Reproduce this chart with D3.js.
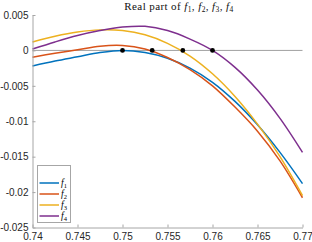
<!DOCTYPE html>
<html>
<head>
<meta charset="utf-8">
<script src="https://cdn.jsdelivr.net/npm/d3@7"></script>
<style>
  html, body { margin: 0; padding: 0; background: #fff; }
  svg { display: block; }
</style>
</head>
<body>
<svg id="chart" width="312" height="242"></svg>
<script>
// values
const xs = [0.74, 0.7425, 0.745, 0.7475, 0.75, 0.7525, 0.755, 0.7575, 0.76, 0.7625, 0.765, 0.7675, 0.77];
const f1 = [-0.0022, -0.0015, -0.0009, -0.0003, 0, -0.0003, -0.0011, -0.0025, -0.0045, -0.0072, -0.0105, -0.0144, -0.0188];
const f2 = [-0.00095, -0.0004, 0.0001, 0.0006, 0.0007, 0.0002, -0.0010, -0.0027, -0.0050, -0.0080, -0.0114, -0.0156, -0.0208];
const f3 = [0.0012, 0.0020, 0.0026, 0.0029, 0.0028, 0.0022, 0.0010, -0.0008, -0.0033, -0.0065, -0.0104, -0.0150, -0.0205];
const f4 = [0.0002, 0.0012, 0.0021, 0.0028, 0.0033, 0.0034, 0.0028, 0.0016, 0, -0.0024, -0.0056, -0.0096, -0.0144];
const roots = [0.75, 0.7533, 0.7567, 0.76];
const seriesNames = ['1', '2', '3', '4'];
const colors = ['#0072BD', '#D95319', '#EDB120', '#7E2F8E'];
const xTicks = [0.74, 0.745, 0.75, 0.755, 0.76, 0.765, 0.77];
const yTicks = [0.005, 0, -0.005, -0.01, -0.015, -0.02, -0.025];

const svg = d3.select('#chart');

const x = d3.scaleLinear().domain([0.74, 0.77]).range([32.5, 302.5]);
const y = d3.scaleLinear().domain([-0.025, 0.005]).range([227.5, 15]);

const axisColor = '#a6a6a6';
const textColor = '#262626';

// zero line
svg.append('line')
  .attr('x1', x(0.74)).attr('x2', x(0.77))
  .attr('y1', y(0)).attr('y2', y(0))
  .attr('stroke', '#a0a0a0').attr('stroke-width', 1);

// curves
const line = d3.line()
  .x((d, i) => x(xs[i]))
  .y(d => y(d))
  .curve(d3.curveCatmullRom.alpha(0.5));

[f1, f2, f3, f4].forEach((s, i) => {
  svg.append('path')
    .datum(s)
    .attr('fill', 'none')
    .attr('stroke', colors[i])
    .attr('stroke-width', 1.5)
    .attr('d', line);
});

// roots
svg.selectAll('circle.root')
  .data(roots)
  .enter()
  .append('circle')
  .attr('class', 'root')
  .attr('cx', d => x(d))
  .attr('cy', y(0))
  .attr('r', 2.4)
  .attr('fill', '#000');

// axes
const fmt = d => d === 0 ? '0' : String(+d.toFixed(3));
const xAxis = svg.append('g')
  .attr('transform', `translate(0,${y(-0.025)})`)
  .call(d3.axisBottom(x).tickValues(xTicks).tickSizeInner(-3).tickSizeOuter(0).tickPadding(5).tickFormat(fmt));
const yAxis = svg.append('g')
  .attr('transform', `translate(${x(0.74)},0)`)
  .call(d3.axisLeft(y).tickValues(yTicks).tickSizeInner(-3).tickSizeOuter(0).tickPadding(4).tickFormat(fmt));

[xAxis, yAxis].forEach(g => {
  g.select('.domain').attr('stroke', axisColor);
  g.selectAll('.tick line').attr('stroke', axisColor);
  g.selectAll('.tick text')
    .attr('fill', textColor)
    .attr('font-family', 'Liberation Sans, Arial, sans-serif')
    .attr('font-size', 10);
});

// title
const title = svg.append('text')
  .attr('x', 179)
  .attr('y', 10)
  .attr('text-anchor', 'middle')
  .attr('font-family', 'Liberation Serif, Times New Roman, serif')
  .attr('font-size', 11)
  .attr('letter-spacing', 0.4)
  .attr('fill', '#111');
title.append('tspan').text('Real part of ');
seriesNames.forEach((n, i) => {
  title.append('tspan').attr('font-style', 'italic').text('f');
  title.append('tspan').attr('font-size', 7.5).attr('dy', 2).text(n);
  title.append('tspan').attr('dy', -2).text(i < seriesNames.length - 1 ? ', ' : '');
});

// legend
const legend = svg.append('g');
legend.append('rect')
  .attr('x', 37.5).attr('y', 165.5)
  .attr('width', 33).attr('height', 57)
  .attr('fill', '#fff')
  .attr('stroke', axisColor);
seriesNames.forEach((n, i) => {
  const ly = 183 + i * 11;
  legend.append('line')
    .attr('x1', 39.5).attr('x2', 59)
    .attr('y1', ly).attr('y2', ly)
    .attr('stroke', colors[i]).attr('stroke-width', 1.5);
  const t = legend.append('text')
    .attr('x', 61).attr('y', ly + 3)
    .attr('font-family', 'Liberation Serif, Times New Roman, serif')
    .attr('font-size', 9.5)
    .attr('fill', '#000');
  t.append('tspan').attr('font-style', 'italic').text('f');
  t.append('tspan').attr('font-size', 6.5).attr('dy', 2).text(n);
});
</script>
</body>
</html>
